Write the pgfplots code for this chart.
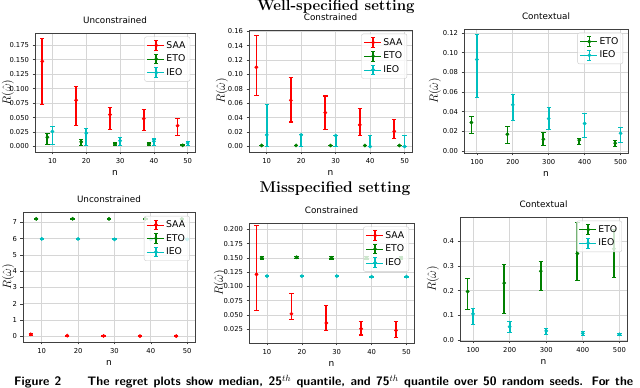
\documentclass[border=0pt]{standalone}
\usepackage{fontspec}
\usepackage{pgfplots}
\pgfplotsset{compat=1.18}
\newfontfamily\dv{DejaVu Sans}
\definecolor{mplred}{RGB}{255,0,0}
\definecolor{mplgreen}{RGB}{0,128,0}
\definecolor{mplcyan}{RGB}{0,191,191}

\pgfplotsset{
  panel/.style={
    scale only axis,
    anchor=south west,
    axis line style={black!75, line width=0.6pt},
    tick style={black!75, line width=0.6pt},
    tick align=outside, major tick length=2.5pt,
    xtick pos=left, ytick pos=left,
    grid=major, grid style={black!16, line width=0.7pt},
    scaled y ticks=false, scaled x ticks=false,
    /pgf/number format/assume math mode=true,
    tick label style={font=\dv\fontsize{6.8}{7}\selectfont},
    title style={font=\dv\fontsize{8.8}{10}\selectfont, inner sep=0pt, yshift=3pt},
    xlabel={n},
    xlabel style={font=\dv\fontsize{9}{10}\selectfont},
    ylabel={$R(\hat{\omega})$},
    legend style={at={(0.97,0.97)}, anchor=north east, draw=black!20,
      rounded corners=2pt, fill=white, fill opacity=0.8, text opacity=1,
      font=\dv\fontsize{9.3}{11}\selectfont, row sep=1.2pt, inner sep=2.5pt},
    legend cell align=left,
  },
  ylab/.style={ylabel style={at={(axis description cs:-#1,0.5)}, anchor=center,
      font=\fontsize{11.5}{13}\selectfont}},
  eb/.style={only marks, mark=*, mark size=1.7pt, color=#1,
    mark options={fill=#1, draw=#1},
    /pgfplots/error bars/y dir=both,
    /pgfplots/error bars/y explicit,
    /pgfplots/error bars/error bar style={line width=1.7pt, color=#1},
    /pgfplots/error bars/error mark options={rotate=90, mark size=2.2pt, line width=1.1pt, color=#1},
    /pgfplots/legend image code/.code={
      \path (0pt,0pt) -- (17pt,0pt);
      \draw[line width=1.5pt] (9pt,-4.8pt) -- (9pt,4.8pt);
      \draw[line width=0.9pt] (7pt,-4.8pt) -- (11pt,-4.8pt) (7pt,4.8pt) -- (11pt,4.8pt);
      \fill (9pt,0pt) circle (1.7pt);
    },
  },
  table/q/.style={x=x, y=m,
    y error plus expr=\thisrow{hi}-\thisrow{m},
    y error minus expr=\thisrow{m}-\thisrow{lo}},
}

\begin{document}
\begin{tikzpicture}
\useasboundingbox (0pt,0pt) rectangle (640pt,388pt);

\node[anchor=base, inner sep=0pt, font=\bfseries\fontsize{15}{17}\selectfont] at (336pt,377pt) {Well-specified setting};
\node[anchor=base, inner sep=0pt, font=\bfseries\fontsize{15.5}{17}\selectfont] at (335pt,195pt) {Misspecified setting};

% ---------------- well-specified: unconstrained
\begin{axis}[panel, ylab=0.169, at={(35pt,236pt)}, width=160pt, height=119pt,
  title={Unconstrained},
  xmin=4.85, xmax=52.15, ymin=-0.0095, ymax=0.196,
  xtick={10,20,30,40,50},
  ytick={0,0.025,0.05,0.075,0.1,0.125,0.15,0.175},
  yticklabel style={/pgf/number format/.cd, fixed, fixed zerofill, precision=3}]
\addplot[eb=mplred] table[q] {
x m lo hi
7 0.147 0.073 0.187
17 0.080 0.036 0.103
27 0.055 0.030 0.068
37 0.048 0.028 0.064
47 0.036 0.019 0.049
};
\addlegendentry{SAA}
\addplot[eb=mplgreen] table[q] {
x m lo hi
8.5 0.016 0.003 0.022
18.5 0.008 0.001 0.012
28.5 0.004 0.001 0.006
38.5 0.004 0.001 0.006
48.5 0.002 0.001 0.003
};
\addlegendentry{ETO}
\addplot[eb=mplcyan] table[q] {
x m lo hi
10 0.026 0.004 0.034
20 0.023 0.001 0.031
30 0.010 0.002 0.015
40 0.009 0.001 0.013
50 0.006 0.001 0.009
};
\addlegendentry{IEO}
\end{axis}

% ---------------- well-specified: constrained
\begin{axis}[panel, ylab=0.166, at={(249pt,236pt)}, width=163pt, height=122pt,
  title={Constrained},
  xmin=4.85, xmax=52.15, ymin=-0.0077, ymax=0.1617,
  xtick={10,20,30,40,50},
  ytick={0,0.02,0.04,0.06,0.08,0.1,0.12,0.14,0.16},
  yticklabel style={/pgf/number format/.cd, fixed, fixed zerofill, precision=2}]
\addplot[eb=mplred] table[q] {
x m lo hi
7 0.110 0.071 0.154
17 0.064 0.034 0.096
27 0.047 0.024 0.070
37 0.030 0.015 0.053
47 0.021 0.011 0.037
};
\addlegendentry{SAA}
\addplot[eb=mplgreen] table[q] {
x m lo hi
8.5 0.0014 0.0012 0.0016
18.5 0.0014 0.0012 0.0016
28.5 0.0013 0.0011 0.0015
38.5 0.0013 0.0011 0.0015
48.5 0.0013 0.0011 0.0015
};
\addlegendentry{ETO}
\addplot[eb=mplcyan] table[q] {
x m lo hi
10 0.016 0.000 0.058
20 0.016 0.000 0.016
30 0.015 0.000 0.015
40 0.000 0.000 0.015
50 0.000 0.000 0.015
};
\addlegendentry{IEO}
\end{axis}

% ---------------- well-specified: contextual
\begin{axis}[panel, ylab=0.177, at={(464pt,235pt)}, width=164pt, height=124pt,
  title={Contextual},
  xmin=64.25, xmax=520.75, ymin=-0.002, ymax=0.124,
  xtick={100,200,300,400,500},
  ytick={0,0.02,0.04,0.06,0.08,0.1,0.12},
  yticklabel style={/pgf/number format/.cd, fixed, fixed zerofill, precision=2}]
\addplot[eb=mplgreen] table[q] {
x m lo hi
85 0.029 0.018 0.035
185 0.017 0.008 0.025
285 0.012 0.006 0.019
385 0.011 0.007 0.013
485 0.008 0.005 0.011
};
\addlegendentry{ETO}
\addplot[eb=mplcyan] table[q] {
x m lo hi
100 0.093 0.054 0.118
200 0.047 0.031 0.057
300 0.033 0.022 0.044
400 0.028 0.014 0.038
500 0.018 0.009 0.024
};
\addlegendentry{IEO}
\end{axis}

% ---------------- misspecified: unconstrained
\begin{axis}[panel, ylab=0.087, at={(23pt,46pt)}, width=172pt, height=130pt,
  title={Unconstrained},
  xmin=4.85, xmax=52.15, ymin=-0.34, ymax=7.63,
  xtick={10,20,30,40,50},
  ytick={0,1,2,3,4,5,6,7}]
\addplot[eb=mplred] table[q] {
x m lo hi
7 0.13 0.08 0.18
17 0.05 0.03 0.07
27 0.03 0.02 0.04
37 0.02 0.01 0.03
47 0.02 0.01 0.03
};
\addlegendentry{SAA}
\addplot[eb=mplgreen] table[q] {
x m lo hi
8.5 7.21 7.16 7.25
18.5 7.21 7.18 7.24
28.5 7.21 7.18 7.24
38.5 7.21 7.18 7.24
48.5 7.21 7.18 7.24
};
\addlegendentry{ETO}
\addplot[eb=mplcyan] table[q] {
x m lo hi
10 5.98 5.95 6.01
20 5.98 5.95 6.01
30 5.95 5.92 5.98
40 5.95 5.92 5.98
50 5.95 5.92 5.98
};
\addlegendentry{IEO}
\end{axis}

% ---------------- misspecified: constrained
\begin{axis}[panel, ylab=0.176, at={(249pt,45pt)}, width=165pt, height=120pt,
  title={Constrained},
  xmin=4.85, xmax=52.15, ymin=0.001, ymax=0.211,
  xtick={10,20,30,40,50},
  ytick={0.025,0.05,0.075,0.1,0.125,0.15,0.175,0.2},
  yticklabel style={/pgf/number format/.cd, fixed, fixed zerofill, precision=3}]
\addplot[eb=mplred] table[q] {
x m lo hi
7 0.121 0.058 0.207
17 0.052 0.042 0.087
27 0.036 0.023 0.066
37 0.026 0.015 0.039
47 0.023 0.011 0.038
};
\addlegendentry{SAA}
\addplot[eb=mplgreen] table[q] {
x m lo hi
8.5 0.150 0.148 0.152
18.5 0.151 0.149 0.153
28.5 0.150 0.148 0.152
38.5 0.150 0.148 0.152
48.5 0.150 0.148 0.152
};
\addlegendentry{ETO}
\addplot[eb=mplcyan] table[q] {
x m lo hi
10 0.118 0.117 0.119
20 0.118 0.117 0.119
30 0.118 0.117 0.119
40 0.117 0.116 0.118
50 0.117 0.116 0.118
};
\addlegendentry{IEO}
\end{axis}

% ---------------- misspecified: contextual
\begin{axis}[panel, ylab=0.162, at={(460pt,47pt)}, width=167pt, height=124pt,
  title={Contextual},
  xmin=64.25, xmax=520.75, ymin=-0.004, ymax=0.499,
  xtick={100,200,300,400,500},
  ytick={0,0.1,0.2,0.3,0.4},
  yticklabel style={/pgf/number format/.cd, fixed, fixed zerofill, precision=1}]
\addplot[eb=mplgreen] table[q] {
x m lo hi
85 0.197 0.125 0.250
185 0.231 0.109 0.307
285 0.279 0.201 0.320
385 0.351 0.241 0.476
485 0.370 0.253 0.450
};
\addlegendentry{ETO}
\addplot[eb=mplcyan] table[q] {
x m lo hi
100 0.106 0.064 0.129
200 0.054 0.031 0.075
300 0.037 0.023 0.048
400 0.027 0.018 0.033
500 0.023 0.019 0.026
};
\addlegendentry{IEO}
\end{axis}

\node[anchor=base west, inner sep=0pt, font=\sffamily\bfseries\fontsize{12.3}{14}\selectfont] at (14pt,2.5pt)
  {\makebox[619pt][s]{Figure 2\hspace{26pt}The regret plots show median, 25$^{th}$ quantile, and 75$^{th}$ quantile over 50 random seeds. For the}};
\end{tikzpicture}
\end{document}
